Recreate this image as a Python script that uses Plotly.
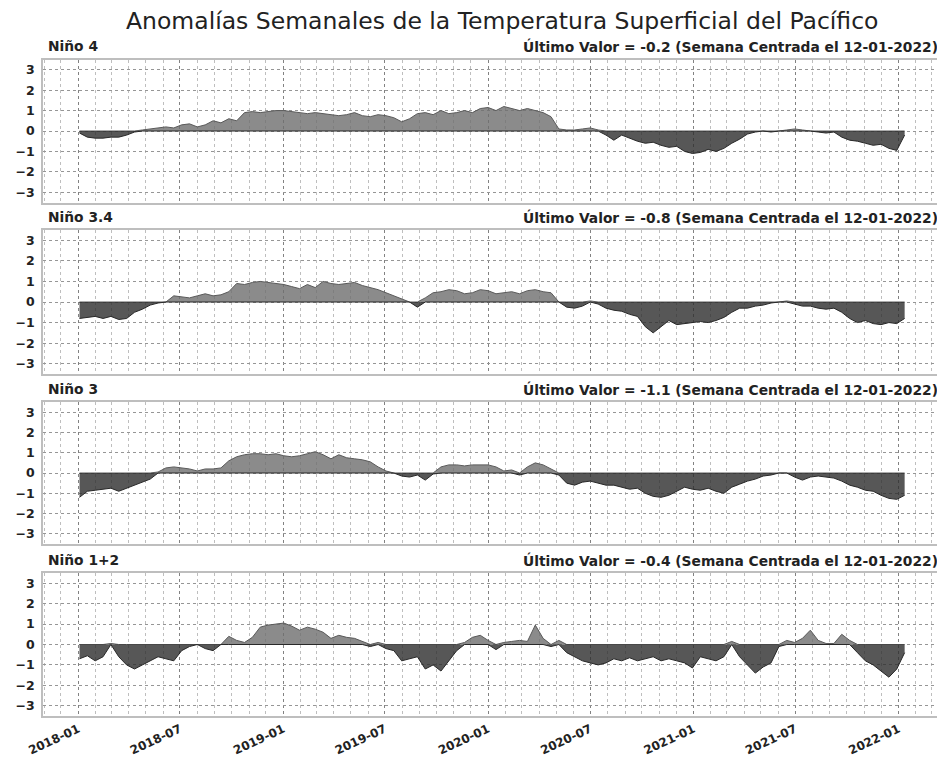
import pandas as pd
import plotly.graph_objects as go
from plotly.subplots import make_subplots

# ---- data: biweekly anomalies, starting 2018-01-03 ----
start_date = "2018-01-03"
n_points = 106

nino4 = [-0.1, -0.3, -0.35, -0.35, -0.3, -0.3, -0.2, -0.05, 0.05, 0.1, 0.15, 0.2, 0.15,
         0.3, 0.35, 0.2, 0.3, 0.5, 0.4, 0.6, 0.5, 0.9, 0.95, 0.9, 0.95, 1.0,
         1.0, 0.95, 0.9, 0.85, 0.9, 0.85, 0.8, 0.75, 0.8, 0.9, 0.75, 0.7, 0.8, 0.75,
         0.65, 0.45, 0.6, 0.85, 0.9, 0.8, 1.0, 0.85, 0.9, 1.0, 0.9, 1.1,
         1.15, 1.0, 1.2, 1.1, 1.0, 1.1, 1.0, 0.9, 0.7, 0.1, 0.05, 0.05, 0.1, 0.15,
         0.05, -0.2, -0.45, -0.2, -0.35, -0.5, -0.6, -0.55, -0.7, -0.8, -0.75, -1.0, -1.1,
         -1.05, -0.9, -1.0, -0.85, -0.6, -0.4, -0.15, -0.05, 0.0, -0.05, 0.0, 0.05, 0.1,
         0.05, 0.0, -0.05, -0.1, -0.05, -0.3, -0.45, -0.5, -0.6, -0.7, -0.65, -0.85, -0.95, -0.2]

nino34 = [-0.8, -0.75, -0.7, -0.8, -0.7, -0.85, -0.8, -0.5, -0.35, -0.15, -0.05, 0.0, 0.3,
          0.25, 0.2, 0.3, 0.4, 0.3, 0.35, 0.5, 0.9, 0.85, 0.95, 1.0, 0.95, 0.9,
          0.85, 0.75, 0.65, 0.85, 0.7, 1.0, 0.9, 0.85, 0.9, 0.95, 0.8, 0.7, 0.6, 0.45,
          0.3, 0.15, 0.0, -0.25, 0.2, 0.45, 0.5, 0.6, 0.55, 0.4, 0.45, 0.6,
          0.55, 0.4, 0.45, 0.5, 0.4, 0.55, 0.6, 0.5, 0.45, 0.0, -0.25, -0.3, -0.2, 0.05,
          -0.1, -0.3, -0.4, -0.45, -0.6, -0.7, -1.2, -1.5, -1.2, -0.9, -1.1, -1.05, -1.0,
          -0.95, -1.0, -0.9, -0.75, -0.5, -0.3, -0.3, -0.2, -0.15, -0.05, 0.0, 0.05, -0.1,
          -0.2, -0.2, -0.3, -0.35, -0.3, -0.5, -0.8, -1.0, -0.9, -1.05, -1.1, -1.0, -1.05, -0.8]

nino3 = [-1.2, -0.9, -0.85, -0.8, -0.75, -0.9, -0.75, -0.6, -0.45, -0.3, 0.05, 0.25, 0.3,
         0.25, 0.2, 0.1, 0.2, 0.2, 0.25, 0.6, 0.8, 0.9, 0.95, 0.95, 0.9, 0.95,
         0.85, 0.8, 0.85, 0.95, 1.05, 0.9, 0.7, 0.9, 0.75, 0.7, 0.65, 0.55, 0.3, 0.1,
         0.0, -0.15, -0.2, -0.1, -0.35, -0.05, 0.3, 0.4, 0.4, 0.35, 0.4, 0.4,
         0.4, 0.3, 0.1, 0.15, -0.1, 0.3, 0.5, 0.4, 0.2, -0.1, -0.5, -0.6, -0.45, -0.4,
         -0.5, -0.6, -0.6, -0.7, -0.8, -0.75, -1.0, -1.15, -1.2, -1.1, -0.9, -0.7, -0.8,
         -0.85, -0.75, -0.9, -1.0, -0.7, -0.55, -0.4, -0.3, -0.15, -0.1, 0.0, 0.0, -0.2,
         -0.35, -0.2, -0.15, -0.2, -0.25, -0.4, -0.6, -0.7, -0.85, -0.9, -1.1, -1.25, -1.3, -1.1]

nino12 = [-0.7, -0.55, -0.8, -0.6, 0.05, -0.6, -1.0, -1.2, -1.0, -0.8, -0.6, -0.7, -0.8,
          -0.3, -0.1, 0.0, -0.2, -0.3, 0.0, 0.4, 0.2, 0.1, 0.35, 0.85, 0.95, 1.0,
          1.05, 0.9, 0.7, 0.85, 0.75, 0.6, 0.3, 0.45, 0.35, 0.3, 0.15, -0.1, 0.1, -0.2,
          -0.3, -0.8, -0.7, -0.6, -1.2, -1.0, -1.3, -0.8, -0.3, 0.1, 0.35, 0.45,
          0.2, -0.25, 0.1, 0.15, 0.2, 0.15, 0.95, 0.3, -0.1, 0.2, -0.4, -0.6, -0.8, -0.9,
          -1.0, -0.9, -0.7, -0.8, -0.65, -0.8, -0.7, -0.6, -0.8, -0.7, -0.8, -0.9, -1.15,
          -0.6, -0.7, -0.8, -0.6, 0.15, -0.6, -1.0, -1.4, -1.1, -0.9, -0.1, 0.2, 0.1,
          0.3, 0.7, 0.2, 0.05, 0.05, 0.5, 0.2, -0.4, -0.8, -1.0, -1.3, -1.6, -1.2, -0.4]

region_names = ["Niño 4", "Niño 3.4", "Niño 3", "Niño 1+2"]
region_values = [nino4, nino34, nino3, nino12]
last_values = ["-0.2", "-0.8", "-1.1", "-0.4"]
last_week = "12-01-2022"
title = "Anomalías Semanales de la Temperatura Superficial del Pacífico"
y_ticks = [-3, -2, -1, 0, 1, 2, 3]

dates = pd.date_range(start_date, periods=n_points, freq="14D")

# ---- figure (page body adds an 8px offset, so the figure is 8px smaller) ----
OFF = 8
W, H = 945 - OFF, 757 - OFF
FONT = "DejaVu Sans"
fig = make_subplots(rows=4, cols=1, shared_xaxes=True)

pos_fill = "rgba(110,110,110,0.8)"
neg_fill = "rgba(45,45,45,0.8)"

for r, vals in enumerate(region_values, start=1):
    pos = [max(v, 0) for v in vals]
    neg = [min(v, 0) for v in vals]
    fig.add_trace(go.Scatter(x=dates, y=pos, mode="lines", fill="tozeroy",
                             line=dict(color="rgb(90,90,90)", width=1),
                             fillcolor=pos_fill, showlegend=False,
                             hoverinfo="skip"), row=r, col=1)
    fig.add_trace(go.Scatter(x=dates, y=neg, mode="lines", fill="tozeroy",
                             line=dict(color="rgb(40,40,40)", width=1),
                             fillcolor=neg_fill, showlegend=False,
                             hoverinfo="skip"), row=r, col=1)

# panel geometry in reference pixels (top, bottom)
panels = [(59.5, 202.5), (230, 374), (402, 544), (573, 716)]
x_left, x_right = 43 - OFF, 940 - OFF
xdom = [x_left / W, x_right / W]

for i, (top, bot) in enumerate(panels, start=1):
    top -= OFF
    bot -= OFF
    ysuf = "" if i == 1 else str(i)
    fig.layout["yaxis" + ysuf].update(
        domain=[1 - bot / H, 1 - top / H],
        range=[-3.5, 3.5], tickvals=y_ticks, ticks="",
        showgrid=True, gridcolor="rgb(150,150,150)", griddash="dot", gridwidth=1,
        zeroline=False, showline=True, mirror=True, linecolor="rgb(190,190,190)",
        linewidth=1.5, ticklabelstandoff=4,
        tickfont=dict(family=FONT, size=12.5, color="#222", weight="bold"),
        automargin=False,
    )
    fig.layout["xaxis" + ysuf].update(
        domain=xdom, type="date",
        range=["2017-10-30", "2022-03-16"],
        tick0="2018-01-01", dtick="M6", tickformat="%Y-%m",
        showgrid=True, gridcolor="rgb(130,130,130)", griddash="dot", gridwidth=1.3,
        minor=dict(dtick="M1", showgrid=True, gridcolor="rgb(190,190,190)",
                   griddash="dot", gridwidth=1),
        zeroline=False, showline=True, mirror=True, linecolor="rgb(190,190,190)",
        linewidth=1.5, ticks="",
        showticklabels=(i == 4), tickangle=-25,
        tickfont=dict(family=FONT, size=12, color="#222", weight="bold"),
        automargin=False,
    )

annotations = [dict(text=title, x=(501.5 - OFF) / W, y=1 - (21 - OFF) / H,
                    xref="paper", yref="paper",
                    xanchor="center", yanchor="middle", showarrow=False,
                    font=dict(family=FONT, size=23.5, color="#222"))]
for (top, bot), name, lv in zip(panels, region_names, last_values):
    ylab = 1 - (top - OFF - 13) / H
    annotations.append(dict(text=name, x=(x_left + 3) / W, y=ylab, xref="paper",
                            yref="paper", xanchor="left", yanchor="middle",
                            showarrow=False,
                            font=dict(family=FONT, size=13.8, color="#222",
                                      weight="bold")))
    annotations.append(dict(text=f"Último Valor = {lv} (Semana Centrada el {last_week})",
                            x=x_right / W, y=ylab, xref="paper", yref="paper",
                            xanchor="right", yanchor="middle", showarrow=False,
                            font=dict(family=FONT, size=13.8, color="#222",
                                      weight="bold")))

fig.update_layout(
    width=W, height=H,
    margin=dict(l=0, r=0, t=0, b=0),
    paper_bgcolor="white", plot_bgcolor="white",
    annotations=annotations,
    font=dict(family=FONT),
)

fig.write_html("out.html")
